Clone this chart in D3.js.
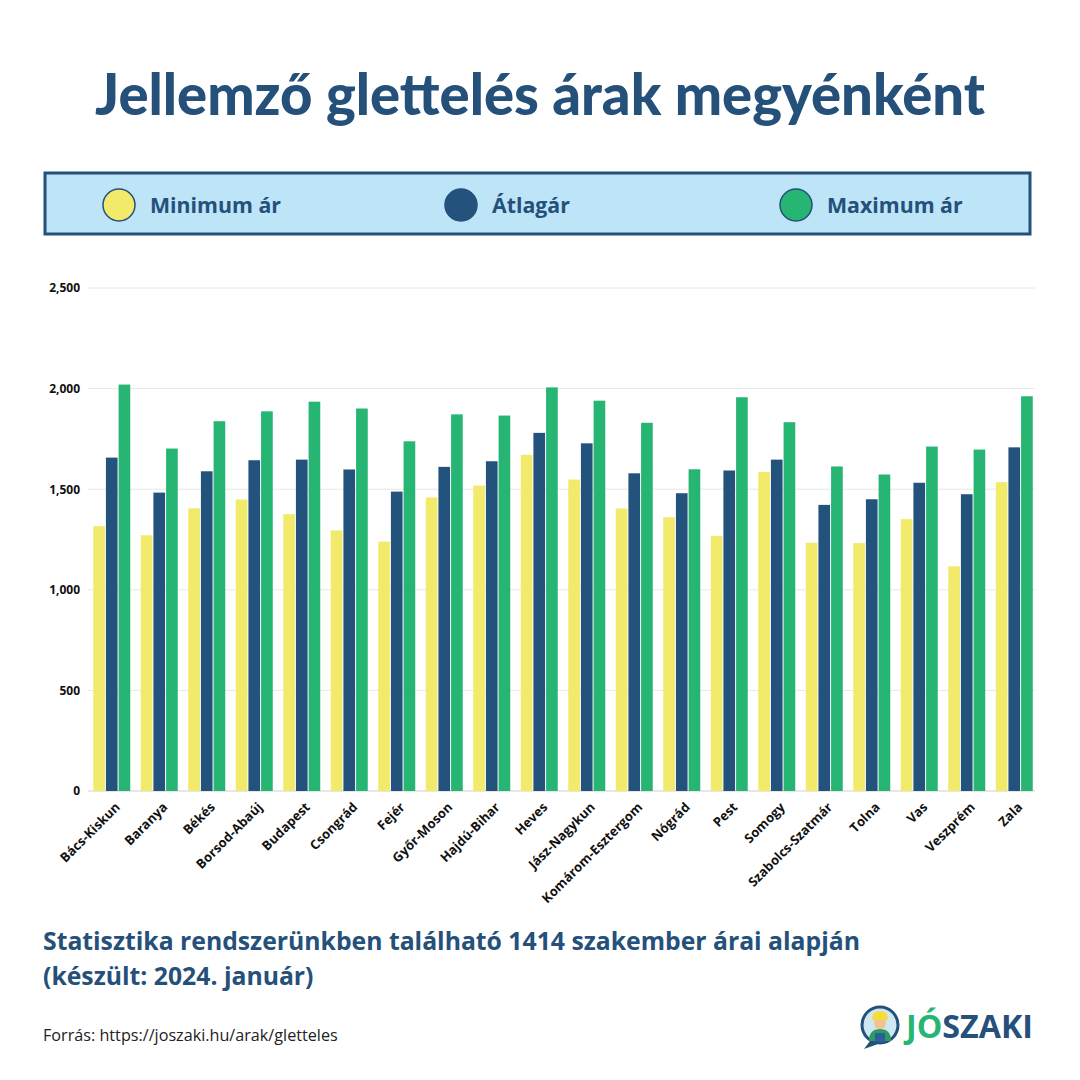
<!DOCTYPE html>
<html><head><meta charset="utf-8">
<script src="https://cdn.jsdelivr.net/npm/d3@7"></script>
<style>body{margin:0;background:#fff}svg{display:block}</style>
</head><body>
<svg id="c" width="1080" height="1080"></svg>
<script>
const categories = ["Bács-Kiskun","Baranya","Békés","Borsod-Abaúj","Budapest","Csongrád","Fejér","Győr-Moson","Hajdú-Bihar","Heves","Jász-Nagykun","Komárom-Esztergom","Nógrád","Pest","Somogy","Szabolcs-Szatmár","Tolna","Vas","Veszprém","Zala"];
const minPrices = [1316,1271,1405,1449,1376,1295,1239,1459,1518,1671,1548,1404,1361,1268,1586,1234,1232,1351,1117,1535];
const avgPrices = [1657,1483,1589,1644,1647,1598,1488,1611,1639,1780,1728,1579,1480,1593,1647,1422,1450,1532,1475,1708];
const maxPrices = [2020,1702,1838,1887,1935,1901,1738,1872,1866,2006,1940,1830,1599,1957,1833,1613,1573,1712,1697,1962];
const seriesNames = ["Minimum ár","Átlagár","Maximum ár"];
const seriesColors = ["#f2ea6b","#23527c","#27b574"];
const yTicks = [0,500,1000,1500,2000,2500];

const svg = d3.select("#c");
const navy = "#24507a";
const FONT = "'Open Sans', 'Noto Sans', sans-serif";

function fitText(sel, width){
  const w = sel.node().getComputedTextLength();
  const fs = parseFloat(sel.attr("font-size"));
  sel.attr("font-size", fs*width/w);
}

// Title
const title = svg.append("text").attr("x",540).attr("y",115).attr("text-anchor","middle")
  .attr("font-family","Lato, 'Noto Sans', sans-serif").attr("font-weight",900).attr("font-size",50)
  .attr("fill",navy).text("Jellemző glettelés árak megyénként");
fitText(title, 890);

// Legend
svg.append("rect").attr("x",45).attr("y",173).attr("width",985).attr("height",61)
  .attr("fill","#bde4f7").attr("stroke",navy).attr("stroke-width",3);
const legX = [119,461,796];
seriesNames.forEach((n,i)=>{
  svg.append("circle").attr("cx",legX[i]).attr("cy",205).attr("r",16)
    .attr("fill",seriesColors[i]).attr("stroke",navy).attr("stroke-width",1.5);
  svg.append("text").attr("x",legX[i]+31).attr("y",213).attr("font-family",FONT)
    .attr("font-weight",700).attr("font-size",21.3).attr("fill",navy).text(n);
});

// Chart
const x0 = d3.scaleBand().domain(categories).range([88,1038]).paddingInner(0.2).paddingOuter(0.1);
const x1 = d3.scaleBand().domain([0,1,2]).range([0,x0.bandwidth()]);
const y = d3.scaleLinear().domain([0,2500]).range([791,288]);

const gGrid = svg.append("g");
gGrid.selectAll("line").data(yTicks).join("line")
  .attr("x1",88).attr("x2",1035).attr("y1",d=>y(d)).attr("y2",d=>y(d))
  .attr("stroke",d=>d===0?"#d0d0d0":"#e8e8e8").attr("stroke-width",1);

const yAxis = svg.append("g").attr("transform","translate(88,0)")
  .call(d3.axisLeft(y).tickValues(yTicks).tickFormat(d3.format(",")).tickSize(0).tickPadding(8));
yAxis.select(".domain").remove();
yAxis.selectAll("text").attr("font-family",FONT).attr("font-weight",700).attr("font-size",12).attr("fill","#111");

const data = categories.map((c,i)=>({c, v:[minPrices[i],avgPrices[i],maxPrices[i]]}));
const groups = svg.append("g").selectAll("g").data(data).join("g")
  .attr("transform",d=>`translate(${x0(d.c)},0)`);
groups.selectAll("rect").data(d=>d.v.map((v,k)=>({v,k}))).join("rect")
  .attr("x",d=>x1(d.k)+0.5).attr("width",x1.bandwidth()-1)
  .attr("y",d=>y(d.v)).attr("height",d=>y(0)-y(d.v))
  .attr("fill",d=>seriesColors[d.k]);

const xAxis = svg.append("g").attr("transform","translate(0,791)")
  .call(d3.axisBottom(x0).tickSize(0).tickPadding(0));
xAxis.select(".domain").remove();
xAxis.selectAll("text").attr("font-family",FONT).attr("font-weight",700).attr("font-size",13).attr("fill","#111")
  .attr("text-anchor","end").attr("dy",0).attr("y",0)
  .attr("transform","translate(9,17) rotate(-45)");

// Subtitle
const s1 = svg.append("text").attr("x",43).attr("y",950).attr("font-family",FONT).attr("font-weight",700)
  .attr("font-size",23).attr("fill",navy).text("Statisztika rendszerünkben található 1414 szakember árai alapján");
fitText(s1, 817);
svg.append("text").attr("x",43).attr("y",985).attr("font-family",FONT).attr("font-weight",700)
  .attr("font-size",s1.attr("font-size")).attr("fill",navy).text("(készült: 2024. január)");

const src = svg.append("text").attr("x",43).attr("y",1041).attr("font-family",FONT)
  .attr("font-size",14).attr("fill","#222").text("Forrás: https://joszaki.hu/arak/gletteles");
fitText(src, 295);

// Logo
const lg = svg.append("g").attr("transform","translate(880,1025)");
lg.append("path").attr("d","M-10,16 L-16,24 L-2,19 Z").attr("fill",navy);
lg.append("circle").attr("r",18).attr("fill","#cfe6f3").attr("stroke",navy).attr("stroke-width",3);
lg.append("path").attr("d","M-11,16 Q-11,4 0,4 Q11,4 11,16 Z").attr("fill","#2f9a5e");
lg.append("rect").attr("x",-5).attr("y",8).attr("width",10).attr("height",9).attr("fill","#2d5e9e");
lg.append("circle").attr("cy",-2).attr("r",6).attr("fill","#f2c28f");
lg.append("path").attr("d","M-8,-5 Q-8,-14 0,-14 Q8,-14 8,-5 Z").attr("fill","#f2dd3a");
const lt = svg.append("text").attr("x",906).attr("y",1038).attr("font-family",FONT)
  .attr("font-weight",700).attr("font-size",28);
lt.append("tspan").attr("fill","#27b574").text("JÓ");
lt.append("tspan").attr("fill",navy).text("SZAKI");
fitText(lt, 127);
</script>
</body></html>
